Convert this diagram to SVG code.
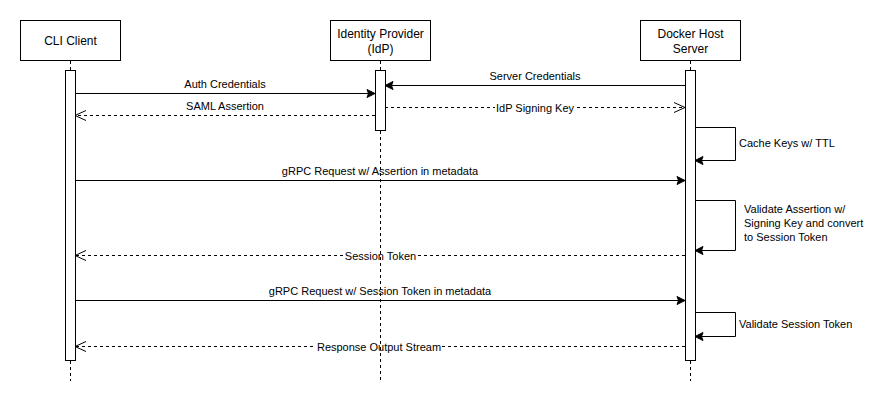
<svg xmlns="http://www.w3.org/2000/svg" width="881" height="400" viewBox="0 0 881 400">
<defs>
<style>
.box{fill:#fff;stroke:#000;stroke-width:1}
.bar{fill:#fff;stroke:#000;stroke-width:1}
.life{stroke:#000;stroke-width:1;stroke-dasharray:3 3;fill:none}
.msg{stroke:#000;stroke-width:1;fill:none}
.ret{stroke:#000;stroke-width:1;fill:none;stroke-dasharray:3 3}
.hdr{font-family:"Liberation Sans",Arial,sans-serif;font-size:12px;fill:#000;text-anchor:middle}
.lbl{font-family:"Liberation Sans",Arial,sans-serif;font-size:11px;fill:#000;text-anchor:middle}
.lbll{font-family:"Liberation Sans",Arial,sans-serif;font-size:11px;fill:#000;text-anchor:start}
.bg{fill:#fff}
</style>
<marker id="filled" markerUnits="userSpaceOnUse" markerWidth="10" markerHeight="10" viewBox="0 0 10 10" refX="9" refY="5" orient="auto">
<path d="M1,1 L9,5 L1,9 L2.5,5 z" fill="#000" stroke="#000" stroke-width="1"/>
</marker>
<marker id="open" markerUnits="userSpaceOnUse" markerWidth="14" markerHeight="12" viewBox="0 0 14 12" refX="12" refY="6" orient="auto">
<path d="M1,1 L12,6 L1,11" fill="none" stroke="#000" stroke-width="1"/>
</marker>
</defs>
<rect width="881" height="400" fill="#fff"/>

<g id="connectors">
<line class="msg" x1="75" y1="93.5" x2="375" y2="93.5" marker-end="url(#filled)"/>
<text class="lbl" x="225" y="88">Auth Credentials</text>

<line class="ret" x1="375" y1="115.5" x2="75" y2="115.5" marker-end="url(#open)"/>
<text class="lbl" x="225" y="110">SAML Assertion</text>

<line class="msg" x1="685" y1="85.5" x2="385" y2="85.5" marker-end="url(#filled)"/>
<text class="lbl" x="535" y="80">Server Credentials</text>

<line class="ret" x1="385" y1="107.5" x2="685" y2="107.5" marker-end="url(#open)"/>
<rect class="bg" x="495" y="101" width="80" height="13"/>
<text class="lbl" x="535" y="111.5">IdP Signing Key</text>

<polyline class="msg" points="695,127.5 735.5,127.5 735.5,160.5 695,160.5" marker-end="url(#filled)"/>
<text class="lbll" x="739" y="147">Cache Keys w/ TTL</text>

<line class="msg" x1="75" y1="180.5" x2="685" y2="180.5" marker-end="url(#filled)"/>
<text class="lbl" x="380" y="175">gRPC Request w/ Assertion in metadata</text>

<polyline class="msg" points="695,200.5 735.5,200.5 735.5,250.5 695,250.5" marker-end="url(#filled)"/>
<text class="lbll" x="744" y="213">Validate Assertion w/</text>
<text class="lbll" x="744" y="227">Signing Key and convert</text>
<text class="lbll" x="744" y="241">to Session Token</text>

<line class="ret" x1="685" y1="255.5" x2="75" y2="255.5" marker-end="url(#open)"/>
<rect class="bg" x="344" y="249" width="73" height="13"/>
<text class="lbl" x="380.5" y="259.5">Session Token</text>

<line class="msg" x1="75" y1="300.5" x2="685" y2="300.5" marker-end="url(#filled)"/>
<text class="lbl" x="380" y="295">gRPC Request w/ Session Token in metadata</text>

<polyline class="msg" points="695,312.5 735.5,312.5 735.5,336.5 695,336.5" marker-end="url(#filled)"/>
<text class="lbll" x="739" y="328">Validate Session Token</text>

<line class="ret" x1="685" y1="346.5" x2="75" y2="346.5" marker-end="url(#open)"/>
<rect class="bg" x="316" y="340" width="126" height="13"/>
<text class="lbl" x="379" y="350.5">Response Output Stream</text>
</g>

<g id="cli-client">
<rect class="box" x="20.5" y="20.5" width="100" height="40"/>
<text class="hdr" x="70.5" y="45">CLI Client</text>
<line class="life" x1="70.5" y1="61" x2="70.5" y2="70"/>
<line class="life" x1="70.5" y1="361" x2="70.5" y2="381"/>
<rect class="bar" x="65.5" y="70.5" width="10" height="290"/>
</g>

<g id="idp">
<rect class="box" x="330.5" y="20.5" width="100" height="40"/>
<text class="hdr" x="380.5" y="38">Identity Provider</text>
<text class="hdr" x="380.5" y="52.5">(IdP)</text>
<line class="life" x1="380.5" y1="61" x2="380.5" y2="70"/>
<line class="life" x1="380.5" y1="131" x2="380.5" y2="381"/>
<rect class="bar" x="375.5" y="70.5" width="10" height="60"/>
</g>

<g id="docker-host">
<rect class="box" x="640.5" y="20.5" width="100" height="40"/>
<text class="hdr" x="690.5" y="38">Docker Host</text>
<text class="hdr" x="690.5" y="52.5">Server</text>
<line class="life" x1="690.5" y1="61" x2="690.5" y2="70"/>
<line class="life" x1="690.5" y1="361" x2="690.5" y2="381"/>
<rect class="bar" x="685.5" y="70.5" width="10" height="290"/>
</g>
</svg>
